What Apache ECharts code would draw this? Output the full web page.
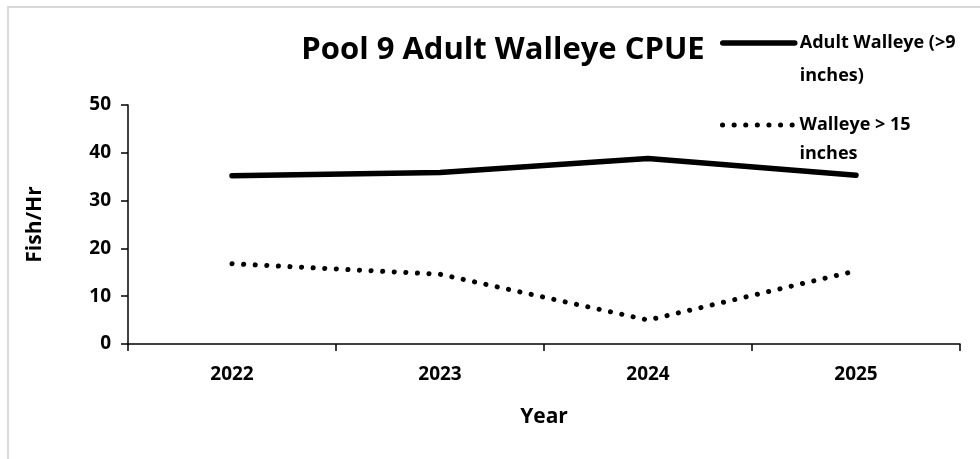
<!DOCTYPE html>
<html>
<head>
<meta charset="utf-8">
<title>Pool 9 Adult Walleye CPUE</title>
<script src="https://cdn.jsdelivr.net/npm/echarts@6/dist/echarts.min.js"></script>
<style>
  html, body { margin: 0; padding: 0; background: #fff; }
  #frame {
    position: absolute; left: 7px; top: 6px; width: 990px; height: 470px;
    border-left: 2px solid #d9d9d9; border-top: 2px solid #d9d9d9;
  }
  #chart { position: absolute; left: 0; top: 0; width: 980px; height: 459px; }
</style>
</head>
<body>
<div id="frame"></div>
<div id="chart"></div>
<script>
var years = ['2022', '2023', '2024', '2025'];
var adultWalleye = [35.2, 35.9, 38.8, 35.3];
var walleyeOver15 = [16.8, 14.6, 5.0, 15.3];
var yTicks = { min: 0, max: 50, interval: 10 };
var seriesNames = ['Adult Walleye (>9 inches)', 'Walleye > 15 inches'];
var legendLines = [['Adult Walleye (>9', 'inches)'], ['Walleye > 15', 'inches']];

var font = 'Open Sans';
var dotted = [0.1, 11.5];

var myChart = echarts.init(document.getElementById('chart'));

// legend text: blank spacer line on top so the icon sits beside the first line
function legendText(lines) {
    return '{s| }\n{a|' + lines[0] + '}\n{a|' + lines[1] + '}';
}
function legendRich(lh) {
    return {
        s: { fontFamily: font, fontSize: 18, lineHeight: lh },
        a: { fontFamily: font, fontWeight: 'bold', fontSize: 18, color: '#000', lineHeight: lh }
    };
}

var option = {
    animation: false,
    title: {
        text: 'Pool 9 Adult Walleye CPUE',
        left: 498,
        top: 30,
        textAlign: 'center',
        textStyle: { fontFamily: font, fontWeight: 'bold', fontSize: 31, color: '#000' }
    },
    legend: [{
        data: [seriesNames[0]],
        left: 715,
        top: -4,
        itemWidth: 72,
        itemHeight: 14,
        itemStyle: { opacity: 0 },
        lineStyle: { width: 5.5, cap: 'round', type: 'solid' },
        formatter: function () { return legendText(legendLines[0]); },
        textStyle: { rich: legendRich(33) }
    }, {
        data: [seriesNames[1]],
        left: 715,
        top: 82,
        itemWidth: 72,
        itemHeight: 14,
        itemStyle: { opacity: 0 },
        lineStyle: { width: 5, cap: 'round', type: dotted },
        formatter: function () { return legendText(legendLines[1]); },
        textStyle: { rich: legendRich(29) }
    }],
    grid: { left: 128, right: 20, top: 105, bottom: 115 },
    xAxis: {
        type: 'category',
        data: years,
        boundaryGap: true,
        name: 'Year',
        nameLocation: 'middle',
        nameGap: 63,
        nameTextStyle: { fontFamily: font, fontWeight: 'bold', fontSize: 21, color: '#000' },
        axisLine: { lineStyle: { color: '#000', width: 1.5 } },
        axisTick: { show: true, length: 7, lineStyle: { color: '#000', width: 1.5 } },
        axisLabel: { fontFamily: font, fontWeight: 'bold', fontSize: 19, color: '#000', margin: 21 }
    },
    yAxis: {
        type: 'value',
        min: yTicks.min,
        max: yTicks.max,
        interval: yTicks.interval,
        name: 'Fish/Hr',
        nameLocation: 'middle',
        nameRotate: 90,
        nameGap: 82,
        nameTextStyle: { fontFamily: font, fontWeight: 'bold', fontSize: 21, color: '#000' },
        splitLine: { show: false },
        axisLine: { show: true, lineStyle: { color: '#000', width: 1.5 } },
        axisTick: { show: true, length: 7, lineStyle: { color: '#000', width: 1.5 } },
        axisLabel: { fontFamily: font, fontWeight: 'bold', fontSize: 19, color: '#000', margin: 17 }
    },
    series: [{
        name: seriesNames[0],
        type: 'line',
        data: adultWalleye,
        symbol: 'none',
        color: '#000',
        lineStyle: { color: '#000', width: 5.5, cap: 'round', join: 'round' }
    }, {
        name: seriesNames[1],
        type: 'line',
        data: walleyeOver15,
        symbol: 'none',
        color: '#000',
        lineStyle: { color: '#000', width: 5, type: dotted, cap: 'round' }
    }]
};

myChart.setOption(option);
</script>
</body>
</html>
